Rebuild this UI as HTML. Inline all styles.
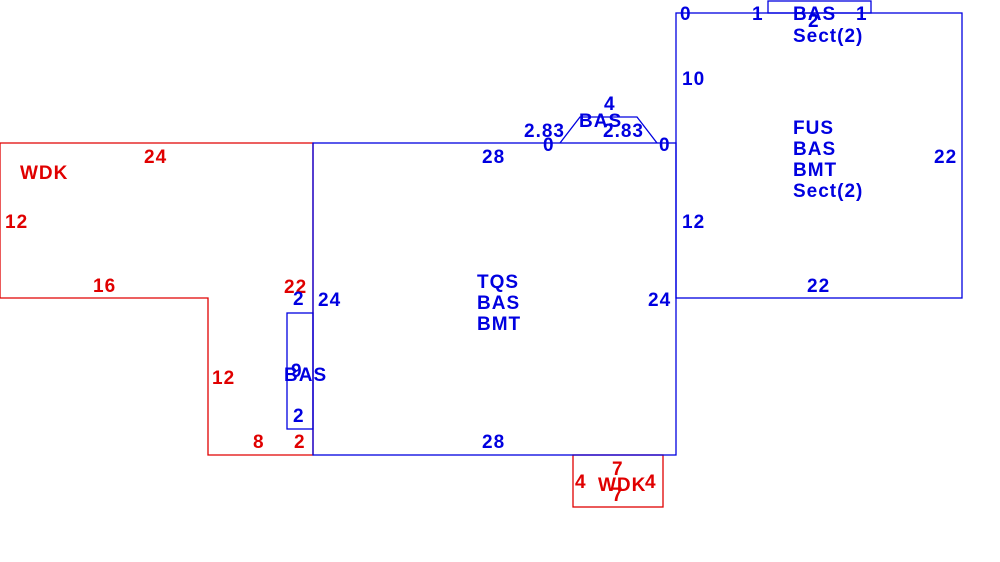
<!DOCTYPE html>
<html><head><style>body{margin:0;background:#fff}svg{display:block}text{font-family:"Liberation Sans",sans-serif;font-weight:bold;font-size:19px;letter-spacing:1px}</style></head>
<body>
<svg width="1000" height="562" xmlns="http://www.w3.org/2000/svg">
<g fill="none" stroke-width="1.3">
<polygon points="0,143 313,143 313,455 208,455 208,298 0,298" stroke="#e00000"/>
<rect x="573" y="455" width="90" height="52" stroke="#e00000"/>
<rect x="313" y="143" width="363" height="312" stroke="#0000e0"/>
<rect x="676" y="13" width="286" height="285" stroke="#0000e0"/>
<polyline points="560,143 580,117 637,117 657,143" stroke="#0000e0"/>
<rect x="768" y="1" width="103" height="12" stroke="#0000e0"/>
<rect x="287" y="313" width="26" height="116" stroke="#0000e0"/>
</g>
<g fill="#e00000">
<text x="20" y="179">WDK</text>
<text x="144" y="163">24</text>
<text x="5" y="228">12</text>
<text x="93" y="292">16</text>
<text x="284" y="293">22</text>
<text x="212" y="384">12</text>
<text x="253" y="448">8</text>
<text x="294" y="448">2</text>
<text x="575" y="488">4</text>
<text x="612" y="475">7</text>
<text x="598" y="491">WDK</text>
<text x="612" y="501">7</text>
<text x="645" y="488">4</text>
</g>
<g fill="#0000e0">
<text x="477" y="288">TQS</text>
<text x="477" y="309">BAS</text>
<text x="477" y="330">BMT</text>
<text x="482" y="163">28</text>
<text x="482" y="448">28</text>
<text x="318" y="306">24</text>
<text x="648" y="306">24</text>
<text x="293" y="305">2</text>
<text x="293" y="422">2</text>
<text x="284" y="381">BAS</text>
<text x="291" y="377">9</text>
<text x="524" y="137">2.83</text>
<text x="543" y="151">0</text>
<text x="604" y="110">4</text>
<text x="579" y="127">BAS</text>
<text x="603" y="137">2.83</text>
<text x="659" y="151">0</text>
<text x="680" y="20">0</text>
<text x="752" y="20">1</text>
<text x="793" y="20">BAS</text>
<text x="808" y="27">2</text>
<text x="856" y="20">1</text>
<text x="793" y="42">Sect(2)</text>
<text x="682" y="85">10</text>
<text x="793" y="134">FUS</text>
<text x="793" y="155">BAS</text>
<text x="793" y="176">BMT</text>
<text x="793" y="197">Sect(2)</text>
<text x="934" y="163">22</text>
<text x="682" y="228">12</text>
<text x="807" y="292">22</text>
</g>
</svg>
</body></html>
